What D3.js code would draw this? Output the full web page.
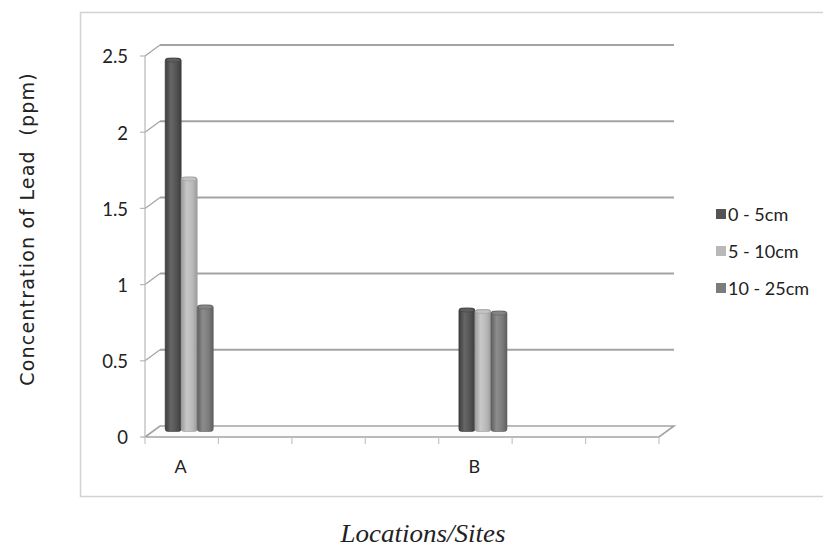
<!DOCTYPE html>
<html>
<head>
<meta charset="utf-8">
<script src="https://cdn.jsdelivr.net/npm/d3@7"></script>
<style>
  html, body { margin: 0; padding: 0; background: #fff; }
  svg { display: block; }
  text { white-space: pre; }
</style>
</head>
<body>
<svg id="chart" width="823" height="550"></svg>
<script>
// ---- data ----
const categories = ["A", "", "", "", "B", "", ""];
const seriesNames = ["0 - 5cm", "5 - 10cm", "10 - 25cm"];
const depth0to5 = [2.45, null, null, null, 0.81, null, null];
const depth5to10 = [1.67, null, null, null, 0.80, null, null];
const depth10to25 = [0.83, null, null, null, 0.79, null, null];
const yTicks = [0, 0.5, 1, 1.5, 2, 2.5];
const yTickLabels = ["0", "0.5", "1", "1.5", "2", "2.5"];
const yTitle = "Concentration of Lead  (ppm)";
const xTitle = "Locations/Sites";

const seriesValues = [depth0to5, depth5to10, depth10to25];
const seriesColors = [
  { base: "#545454", edge: "#3c3c3c", light: "#666666", cap: "#5e5e5e" },
  { base: "#b9b9b9", edge: "#9c9c9c", light: "#c8c8c8", cap: "#c2c2c2" },
  { base: "#7c7c7c", edge: "#5e5e5e", light: "#8c8c8c", cap: "#858585" }
];

const svg = d3.select("#chart");

// 3D offset of the back wall relative to the front edge
const DX = 15, DY = -11;

const y = d3.scaleLinear().domain([0, 2.5]).range([437, 56]);
const x = d3.scaleBand().domain(d3.range(categories.length)).range([145, 659]).paddingInner(0).paddingOuter(0);
const xs = d3.scaleBand().domain(d3.range(seriesNames.length)).range([0, x.bandwidth()]).paddingInner(0).paddingOuter(0.79);

// outer frame
svg.append("rect")
  .attr("x", 80.5).attr("y", 12.5).attr("width", 760).attr("height", 484)
  .attr("fill", "none").attr("stroke", "#d2d2d2").attr("stroke-width", 1.5);

// gradients for bars
const defs = svg.append("defs");
seriesColors.forEach((c, i) => {
  const g = defs.append("linearGradient").attr("id", "grad" + i)
    .attr("x1", "0%").attr("x2", "100%").attr("y1", "0%").attr("y2", "0%");
  g.append("stop").attr("offset", "0%").attr("stop-color", c.edge);
  g.append("stop").attr("offset", "35%").attr("stop-color", c.light);
  g.append("stop").attr("offset", "70%").attr("stop-color", c.base);
  g.append("stop").attr("offset", "100%").attr("stop-color", c.edge);
});

const gridColor = "#a3a3a3";
const x0 = x.range()[0], x1 = x.range()[1];
const labelFont = "Lato, 'Open Sans', sans-serif";

// back wall gridlines + diagonal connectors on the left side wall
const grid = svg.append("g");
yTicks.forEach(t => {
  if (t === 0) return;
  grid.append("line")
    .attr("x1", x0 + DX).attr("x2", x1 + DX)
    .attr("y1", y(t) + DY).attr("y2", y(t) + DY)
    .attr("stroke", gridColor).attr("stroke-width", 2);
  grid.append("line")
    .attr("x1", x0).attr("y1", y(t))
    .attr("x2", x0 + DX).attr("y2", y(t) + DY)
    .attr("stroke", gridColor).attr("stroke-width", 1.2);
});

// floor
const floor = d3.path();
floor.moveTo(x0, y(0));
floor.lineTo(x0 + DX, y(0) + DY);
floor.lineTo(x1 + DX, y(0) + DY);
floor.lineTo(x1, y(0));
floor.closePath();
svg.append("path").attr("d", floor.toString())
  .attr("fill", "#fcfcfc").attr("stroke", gridColor).attr("stroke-width", 1.6);

// y axis (front left)
svg.append("line")
  .attr("x1", x0).attr("x2", x0).attr("y1", y(2.5)).attr("y2", y(0))
  .attr("stroke", "#b8b8b8").attr("stroke-width", 1.2);
yTicks.forEach((t, i) => {
  svg.append("line")
    .attr("x1", x0 - 5).attr("x2", x0).attr("y1", y(t)).attr("y2", y(t))
    .attr("stroke", "#b8b8b8").attr("stroke-width", 1.2);
  svg.append("text")
    .attr("x", x0 - 17).attr("y", y(t) + 1)
    .attr("dy", "0.35em")
    .attr("text-anchor", "end")
    .attr("font-family", labelFont)
    .attr("font-size", 18.5)
    .attr("fill", "#222")
    .text(yTickLabels[i]);
});

// x axis ticks along front floor edge
d3.range(categories.length + 1).forEach(i => {
  const xx = i < categories.length ? x(i) : x1;
  svg.append("line")
    .attr("x1", xx).attr("x2", xx).attr("y1", y(0)).attr("y2", y(0) + 7)
    .attr("stroke", "#c4c4c4").attr("stroke-width", 1.2);
});
categories.forEach((c, i) => {
  if (!c) return;
  svg.append("text")
    .attr("x", x(i) + x.bandwidth() / 2 - 1)
    .attr("y", 467)
    .attr("dy", "0.35em")
    .attr("text-anchor", "middle")
    .attr("font-family", labelFont)
    .attr("font-size", 18)
    .attr("fill", "#222")
    .text(c);
});

// bars (cylinder-like columns at mid depth)
const bars = svg.append("g");
const midDX = DX / 2, midDY = DY / 2;
categories.forEach((c, ci) => {
  seriesValues.forEach((vals, si) => {
    const v = vals[ci];
    if (v == null) return;
    const bx = x(ci) + xs(si) + midDX;
    const bw = xs.bandwidth();
    const top = y(v) + midDY;
    const base = y(0) + midDY;
    const col = seriesColors[si];
    bars.append("rect")
      .attr("x", bx).attr("y", top)
      .attr("width", bw).attr("height", base - top)
      .attr("rx", 3).attr("ry", 2.5)
      .attr("fill", "url(#grad" + si + ")")
      .attr("stroke", col.edge).attr("stroke-width", 0.6);
    bars.append("ellipse")
      .attr("cx", bx + bw / 2).attr("cy", top + 2)
      .attr("rx", bw / 2 - 0.5).attr("ry", 2)
      .attr("fill", col.cap).attr("stroke", col.edge).attr("stroke-width", 0.5);
  });
});

// legend
const legend = svg.append("g").attr("transform", "translate(716,214)");
seriesNames.forEach((n, i) => {
  const g = legend.append("g").attr("transform", `translate(0,${i * 37})`);
  g.append("rect").attr("x", 0).attr("y", -5).attr("width", 10).attr("height", 10)
    .attr("fill", seriesColors[i].base);
  g.append("text").attr("x", 12).attr("y", 1).attr("dy", "0.35em")
    .attr("font-family", labelFont)
    .attr("font-size", 18).attr("fill", "#222")
    .text(n);
});

// y title
svg.append("text")
  .attr("transform", "translate(27,229) rotate(-90)")
  .attr("text-anchor", "middle")
  .attr("dy", "0.35em")
  .attr("font-family", "'DejaVu Sans', Verdana, sans-serif")
  .attr("font-size", 19)
  .attr("letter-spacing", 1.2)
  .attr("fill", "#222")
  .text(yTitle);

// x title
svg.append("text")
  .attr("x", 423).attr("y", 533)
  .attr("dy", "0.35em")
  .attr("text-anchor", "middle")
  .attr("font-family", "'Liberation Serif', 'DejaVu Serif', serif")
  .attr("font-style", "italic")
  .attr("font-size", 26)
  .attr("textLength", 165)
  .attr("lengthAdjust", "spacingAndGlyphs")
  .attr("fill", "#222")
  .text(xTitle);
</script>
</body>
</html>
